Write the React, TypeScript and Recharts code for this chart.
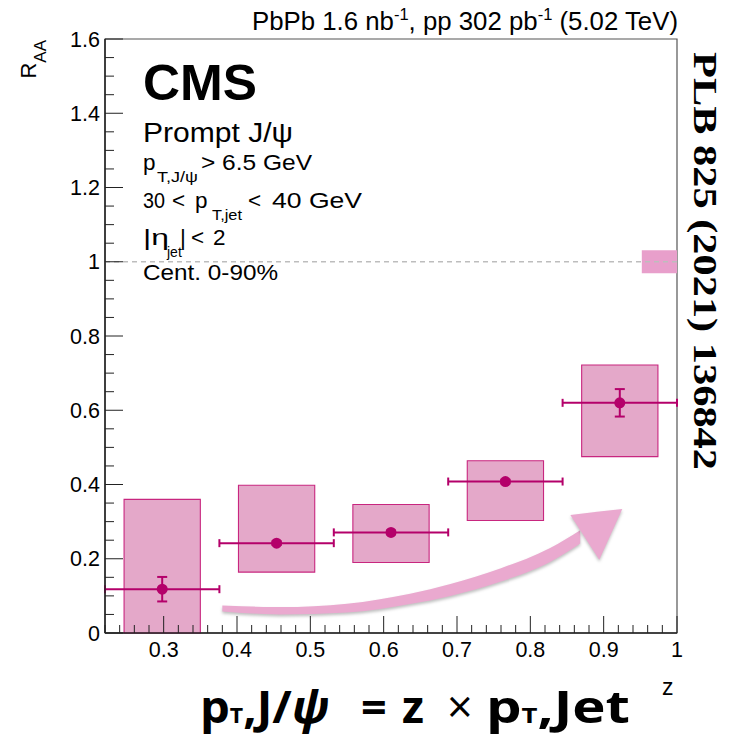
import React from 'react';
import {
  ComposedChart,
  XAxis,
  YAxis,
  Scatter,
  ErrorBar,
  ReferenceArea,
  ReferenceLine,
  Area,
} from 'recharts';

// Prompt J/psi R_AA versus jet fragmentation z
const zCenters = [0.298, 0.454, 0.61, 0.766, 0.922];
const raaValues = [0.118, 0.242, 0.271, 0.408, 0.62];
const statErrors = [0.033, 0.005, 0.005, 0.005, 0.037];
const binHalfWidths = [0.078, 0.078, 0.078, 0.078, 0.078];
const systLow = [0.0, 0.164, 0.19, 0.303, 0.475];
const systHigh = [0.36, 0.398, 0.346, 0.464, 0.722];
const systBoxHalfWidth = 0.052;

// global normalisation uncertainty around unity
const globalUncZ = [0.952, 1.0];
const globalUncRaa = [0.969, 1.031];

// decorative brush arrow (z, centre, half thickness)
const arrowZ = [0.38, 0.459, 0.55, 0.636, 0.691, 0.759, 0.827, 0.868];
const arrowY = [0.066, 0.06, 0.067, 0.092, 0.116, 0.156, 0.21, 0.259];
const arrowHalf = [0.008, 0.01, 0.012, 0.014, 0.016, 0.018, 0.019, 0.018];
const arrowHeadZ = [0.8546, 0.894, 0.9254];
const arrowHeadLow = [0.318, 0.197, 0.334];
const arrowHeadHigh = [0.318, 0.327, 0.334];

const xDomain: [number, number] = [0.22, 1.0];
const yDomain: [number, number] = [0, 1.6];

const xTicks: number[] = [];
for (let i = 11; i <= 50; i++) xTicks.push(Math.round(i * 2) / 100);
const yTicks: number[] = [];
for (let i = 0; i <= 32; i++) yTicks.push(Math.round(i * 5) / 100);

const points = zCenters.map((z, i) => ({
  z,
  raa: raaValues[i],
  zErr: binHalfWidths[i],
  raaErr: statErrors[i],
}));

const arrowBody = arrowZ.map((z, i) => ({
  z,
  band: [arrowY[i] - arrowHalf[i], arrowY[i] + arrowHalf[i]],
}));
const arrowHead = arrowHeadZ.map((z, i) => ({
  z,
  band: [arrowHeadLow[i], arrowHeadHigh[i]],
}));

const MARKER = '#b4006a';
const BOX_FILL = '#e4a8c9';
const BOX_EDGE = '#c8267f';
const AXIS = '#222';
const FONT = '"Liberation Sans", Arial, Helvetica, sans-serif';
const FORMULA_FONT = '"Open Sans", "Noto Sans", sans-serif';
const SQ = 'spacingAndGlyphs';

const isMultiple = (v: number, step: number) =>
  Math.abs(v / step - Math.round(v / step)) < 1e-6;

const XTick = (props: any) => {
  const { x, y, payload } = props;
  const v = payload.value as number;
  const major = isMultiple(v, 0.1);
  const label = Math.abs(v - 1) < 1e-9 ? '1' : v.toFixed(1);
  return (
    <g>
      <line x1={x} x2={x} y1={y} y2={y - (major ? 17 : 8)} stroke={AXIS} strokeWidth={1} />
      {major && (
        <text x={x} y={y + 24} textAnchor="middle" fontSize={21.5} fontFamily={FONT} fill="#000">
          {label}
        </text>
      )}
    </g>
  );
};

const YTick = (props: any) => {
  const { x, y, payload } = props;
  const v = payload.value as number;
  const major = isMultiple(v, 0.2);
  const label = isMultiple(v, 1) ? String(Math.round(v)) : v.toFixed(1);
  return (
    <g>
      <line x1={x} x2={x + (major ? 18 : 9)} y1={y} y2={y} stroke={AXIS} strokeWidth={1} />
      {major && (
        <text x={x - 5} y={y + 7.5} textAnchor="end" fontSize={21.5} fontFamily={FONT} fill="#000">
          {label}
        </text>
      )}
    </g>
  );
};

const Dot = (props: any) => <circle cx={props.cx} cy={props.cy} r={5.5} fill={MARKER} />;

const formulaStyle = {
  fontSize: 45,
  fontWeight: 'bold' as const,
  fontFamily: FORMULA_FONT,
};

export default function App() {
  return (
    <div style={{ position: 'absolute', left: 0, top: 0, width: 730, height: 739, background: '#fff' }}>
      <style>{`.brush path { filter: drop-shadow(0px 2px 1.5px rgba(0,0,0,0.25)); }`}</style>
      <ComposedChart
        width={730}
        height={739}
        margin={{ top: 39, right: 53, bottom: 0, left: 0 }}
      >
        <XAxis
          dataKey="z"
          type="number"
          domain={xDomain}
          allowDataOverflow
          ticks={xTicks}
          interval={0}
          tickLine={false}
          tickSize={0}
          tickMargin={0}
          tick={<XTick />}
          axisLine={{ stroke: AXIS, strokeWidth: 1.5 }}
          height={106}
        />
        <YAxis
          type="number"
          domain={yDomain}
          allowDataOverflow
          ticks={yTicks}
          interval={0}
          tickLine={false}
          tickSize={0}
          tickMargin={0}
          tick={<YTick />}
          axisLine={{ stroke: AXIS, strokeWidth: 1.5 }}
          width={105}
        />
        <ReferenceArea
          x1={xDomain[0]}
          x2={xDomain[1]}
          y1={yDomain[0]}
          y2={yDomain[1]}
          fill="none"
          fillOpacity={0}
          stroke="#555"
          strokeWidth={1.2}
        />
        {zCenters.map((z, i) => (
          <ReferenceArea
            key={`syst-${i}`}
            x1={z - systBoxHalfWidth}
            x2={z + systBoxHalfWidth}
            y1={systLow[i]}
            y2={systHigh[i]}
            fill={BOX_FILL}
            fillOpacity={1}
            stroke={BOX_EDGE}
            strokeWidth={1.1}
          />
        ))}
        <ReferenceArea
          x1={globalUncZ[0]}
          x2={globalUncZ[1]}
          y1={globalUncRaa[0]}
          y2={globalUncRaa[1]}
          fill="#e89fcb"
          fillOpacity={1}
          stroke="none"
        />
        <ReferenceLine y={1} stroke="#bdbdbd" strokeWidth={1.5} strokeDasharray="5 4" />
        <Area
          className="brush"
          data={arrowBody}
          dataKey="band"
          type="monotone"
          stroke="none"
          fill="#eaa9cf"
          fillOpacity={1}
          isAnimationActive={false}
          dot={false}
          activeDot={false}
        />
        <Area
          className="brush"
          data={arrowHead}
          dataKey="band"
          type="linear"
          stroke="none"
          fill="#eaa9cf"
          fillOpacity={1}
          isAnimationActive={false}
          dot={false}
          activeDot={false}
        />
        <Scatter data={points} dataKey="raa" shape={<Dot />} isAnimationActive={false}>
          <ErrorBar dataKey="zErr" direction="x" width={4} stroke={MARKER} strokeWidth={2} />
          <ErrorBar dataKey="raaErr" direction="y" width={5} stroke={MARKER} strokeWidth={2} />
        </Scatter>
      </ComposedChart>

      <svg
        width={730}
        height={739}
        style={{ position: 'absolute', left: 0, top: 0, pointerEvents: 'none' }}
      >
        <text x={252} y={30} fontSize={25} fontFamily={FONT} textLength={426} lengthAdjust={SQ}>
          PbPb 1.6 nb
          <tspan dy={-10} fontSize={16}>-1</tspan>
          <tspan dy={10}>, pp 302 pb</tspan>
          <tspan dy={-10} fontSize={16}>-1</tspan>
          <tspan dy={10}> (5.02 TeV)</tspan>
        </text>

        <text transform="translate(36,40) rotate(-90)" textAnchor="end" fontFamily={FONT} fontSize={22}>
          R<tspan dy={10} fontSize={17}>AA</tspan>
        </text>

        <text x={143} y={100} fontSize={50} fontWeight="bold" fontFamily={FONT} textLength={114} lengthAdjust={SQ}>
          CMS
        </text>
        <text x={143} y={142} fontSize={27} fontFamily={FONT} textLength={150} lengthAdjust={SQ}>
          Prompt J/ψ
        </text>

        <text y={169.5} fontSize={22.5} fontFamily={FONT}>
          <tspan x={143}>p</tspan>
          <tspan x={157} dy={12} fontSize={14} textLength={41} lengthAdjust={SQ}>T,J/ψ</tspan>
          <tspan x={201} dy={-12} textLength={111} lengthAdjust={SQ}>&gt; 6.5 GeV</tspan>
        </text>

        <text y={208} fontSize={22.5} fontFamily={FONT}>
          <tspan x={143} textLength={22} lengthAdjust={SQ}>30</tspan>
          <tspan x={172}>&lt;</tspan>
          <tspan x={195}>p</tspan>
          <tspan x={212} dy={12} fontSize={14} textLength={30} lengthAdjust={SQ}>T,jet</tspan>
          <tspan x={248} dy={-12}>&lt;</tspan>
          <tspan x={272} textLength={90} lengthAdjust={SQ}>40 GeV</tspan>
        </text>

        <text y={245} fontSize={22.5} fontFamily={FONT}>
          <tspan x={143} textLength={26} lengthAdjust={SQ}>|η</tspan>
          <tspan x={167} dy={12} fontSize={14}>jet</tspan>
          <tspan x={180} dy={-12}>|</tspan>
          <tspan x={191}>&lt;</tspan>
          <tspan x={213}>2</tspan>
        </text>

        <text x={143} y={280} fontSize={22.5} fontFamily={FONT} textLength={135} lengthAdjust={SQ}>
          Cent. 0-90%
        </text>

        <text
          transform="translate(694,52) rotate(90)"
          fontSize={33}
          fontWeight="bold"
          fontFamily='"Liberation Serif", "Times New Roman", serif'
          textLength={418}
          lengthAdjust={SQ}
        >
          PLB 825 (2021) 136842
        </text>

        <text x={662} y={695} fontSize={23} fontFamily={FONT}>z</text>

        <text x={200} y={723} {...formulaStyle} textLength={130} lengthAdjust={SQ}>
          p<tspan fontSize={22}>T</tspan>,J/<tspan fontStyle="italic">ψ</tspan>
        </text>
        <text x={361} y={723} {...formulaStyle}>=</text>
        <text x={402} y={723} {...formulaStyle}>z</text>
        <text x={447} y={723} {...formulaStyle} fontWeight="normal">×</text>
        <text x={486} y={723} {...formulaStyle} textLength={144} lengthAdjust={SQ}>
          p<tspan fontSize={22}>T</tspan>,Jet
        </text>
      </svg>
    </div>
  );
}
